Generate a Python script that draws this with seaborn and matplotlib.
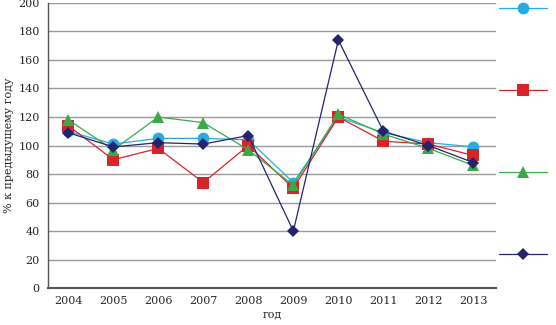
import pandas as pd
import seaborn as sns
import matplotlib.pyplot as plt

# data
years = [2004, 2005, 2006, 2007, 2008, 2009, 2010, 2011, 2012, 2013]
series_1 = [110, 101, 105, 105, 104, 74, 120, 109, 102, 99]
series_2 = [114, 90, 98, 74, 100, 70, 120, 103, 101, 93]
series_3 = [118, 97, 120, 116, 97, 72, 122, 108, 98, 86]
series_4 = [109, 99, 102, 101, 107, 40, 174, 110, 100, 88]
series_names = ["ряд 1", "ряд 2", "ряд 3", "ряд 4"]

colors = ["#29abe2", "#d9232a", "#3aaa47", "#232370"]
markers = ["o", "s", "^", "D"]
sizes = [8.5, 8, 8.5, 6]

df = pd.concat(
    [
        pd.DataFrame({"year": years, "value": vals, "series": name})
        for name, vals in zip(series_names, [series_1, series_2, series_3, series_4])
    ]
)

sns.set_style("white")
plt.rcParams["font.family"] = ["DejaVu Serif"]

fig = plt.figure(figsize=(5.56, 3.25), dpi=100)
ax = fig.add_axes([0.0863, 0.1138, 0.8057, 0.877])

for name, c, m, s in zip(series_names, colors, markers, sizes):
    sub = df[df["series"] == name]
    sns.lineplot(
        data=sub, x="year", y="value", ax=ax, color=c, marker=m,
        markersize=s, markeredgewidth=0, linewidth=0.9, label=name,
    )

ax.set_xlim(2003.55, 2013.5)
ax.set_ylim(0, 200)
ax.set_yticks(range(0, 201, 20))
ax.set_xticks(years)
ax.set_xticklabels([str(y) for y in years])
ax.yaxis.grid(True, color="#9a9a9a", linewidth=1)
ax.xaxis.grid(False)
ax.set_axisbelow(True)
for side in ["top", "right"]:
    ax.spines[side].set_visible(False)
ax.spines["left"].set_color("#555555")
ax.spines["left"].set_linewidth(1)
ax.spines["bottom"].set_color("#555555")
ax.spines["bottom"].set_linewidth(1.5)
ax.tick_params(axis="both", length=0, labelsize=8, pad=6)
ax.set_xlabel("год", fontsize=8, labelpad=2)
ax.set_ylabel("% к предыдущему году", fontsize=8, labelpad=3)

h, l = ax.get_legend_handles_labels()
ax.get_legend().remove()
fig.legend(
    h, [""] * len(h), loc="upper left", bbox_to_anchor=(0.879, 1.026),
    frameon=False, handlelength=4.0, labelspacing=5.85, handletextpad=0,
    fontsize=8.5,
)

plt.savefig("out.png", dpi=100)
